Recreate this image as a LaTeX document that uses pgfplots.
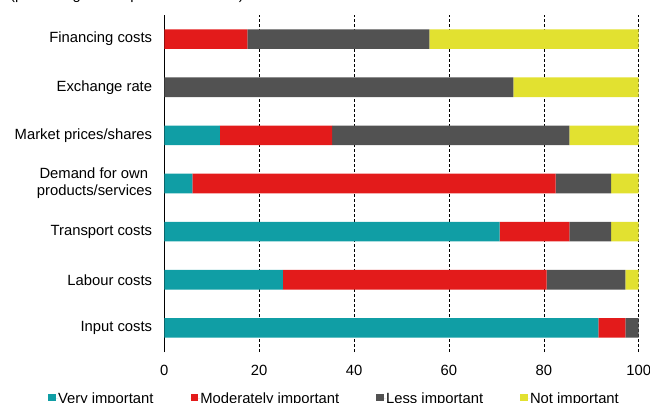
\documentclass[border=0pt]{standalone}
\usepackage{fontspec}
\setmainfont{Liberation Sans}
\usepackage{pgfplots}
\pgfplotsset{compat=1.18}

\definecolor{veryimp}{RGB}{16,158,165}
\definecolor{modimp}{RGB}{227,27,27}
\definecolor{lessimp}{RGB}{82,82,82}
\definecolor{notimp}{RGB}{226,225,48}

\newcommand{\lbl}{\fontsize{14.8bp}{17.3bp}\selectfont}

\begin{document}
\begin{tikzpicture}
% subtitle sits at the very top edge of the page
\node[anchor=base west, inner sep=0pt, font=\lbl] at (10bp,403.5bp) {(percentage of respondents in total)};
\begin{axis}[
  at={(164.3bp,51bp)}, anchor=south west,
  scale only axis, width=474.4bp, height=337bp,
  xbar stacked, bar width=19.6bp,
  xmin=0, xmax=100, ymin=-0.5, ymax=6.5,
  axis lines*=left,
  x axis line style={draw=none},
  y axis line style={black, line width=1.2bp},
  xtick={0,20,...,100},
  ytick={0,...,6},
  yticklabels={Input costs, Labour costs, Transport costs, {Demand for own\kern4bp\\products/services}, Market prices/shares, Exchange rate, Financing costs},
  major tick length=0pt,
  tick style={draw=none},
  xmajorgrids,
  grid style={black, line width=0.6bp, dash pattern=on 3bp off 2bp},
  /pgf/number format/assume math mode=true,
  xticklabel style={font=\lbl, inner sep=0pt, yshift=-13bp},
  yticklabel style={font=\lbl, align=right, inner sep=0pt, xshift=-12bp},
  legend columns=4,
  legend cell align=left,
  legend image code/.code={\fill[#1] (0bp,-2.3bp) rectangle (7.6bp,5.3bp); \path (0bp,0bp) -- (9.8bp,0bp);},
  legend style={draw=none, fill=none, inner sep=0pt, outer sep=0pt,
    at={(axis description cs:-0.2445,-0.1208)}, anchor=north west,
    font=\lbl, nodes={inner sep=0pt},
    /tikz/every even column/.append style={column sep=37bp}},
]
\addplot[fill=veryimp, draw=none] coordinates {(91.5,0) (25.0,1) (70.7,2) (5.9,3) (11.7,4) (0,5) (0,6)};
\addplot[fill=modimp, draw=none] coordinates {(5.7,0) (55.6,1) (14.7,2) (76.6,3) (23.7,4) (0,5) (17.5,6)};
\addplot[fill=lessimp, draw=none] coordinates {(2.8,0) (16.6,1) (8.8,2) (11.7,3) (50.0,4) (73.6,5) (38.4,6)};
\addplot[fill=notimp, draw=none] coordinates {(0,0) (2.8,1) (5.8,2) (5.8,3) (14.6,4) (26.4,5) (44.1,6)};
\legend{Very important, Moderately important, Less important, Not important}
\end{axis}
\pgfresetboundingbox
\useasboundingbox (0,0) rectangle (650bp,403bp);
\end{tikzpicture}
\end{document}
